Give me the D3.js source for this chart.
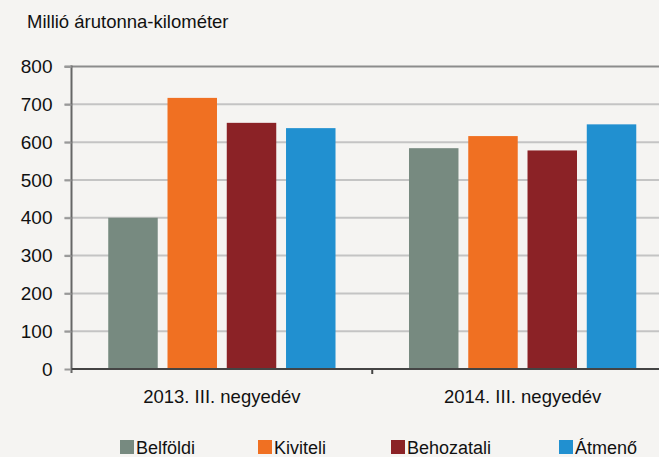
<!DOCTYPE html>
<html><head><meta charset="utf-8">
<script src="https://cdn.jsdelivr.net/npm/d3@7"></script>
<style>
html,body{margin:0;padding:0;background:#f5f4f2;}
svg{display:block;font-family:"Liberation Sans",Arial,sans-serif;}
</style></head>
<body>
<script>
const categories = ["2013. III. negyedév", "2014. III. negyedév"];
const seriesNames = ["Belföldi", "Kiviteli", "Behozatali", "Átmenő"];
const seriesColors = ["#778a80", "#f07022", "#8b2226", "#2190d0"];
const belfoldi = [400, 584];
const kiviteli = [717, 616];
const behozatali = [651, 578];
const atmeno = [637, 647];
const yTicks = [0, 100, 200, 300, 400, 500, 600, 700, 800];
const yTitle = "Millió árutonna-kilométer";

(function () {
const seriesValues = [belfoldi, kiviteli, behozatali, atmeno];
const W = 659, H = 457;
const svg = d3.select("body").append("svg").attr("width", W).attr("height", H);
svg.append("rect").attr("width", W).attr("height", H).attr("fill", "#f5f4f2");

const pL = 71.5, pR = 673, pT = 66.5, pB = 369;
const x0 = d3.scaleBand().domain(categories).range([pL, pR]).paddingInner(0).paddingOuter(0);
const x1 = d3.scaleBand().domain(seriesNames).range([0, x0.bandwidth()]).paddingInner(0.165).paddingOuter(0.62);
const y = d3.scaleLinear().domain([0, 800]).range([pB, pT]);

// gridlines
svg.append("g").selectAll("line").data(yTicks.filter(d => d > 0 && d < 800)).join("line")
  .attr("x1", pL - 7).attr("x2", W).attr("y1", d => y(d)).attr("y2", d => y(d))
  .attr("stroke", "#c4c4c4").attr("stroke-width", 2);
// top border
svg.append("line").attr("x1", pL - 7).attr("x2", W).attr("y1", y(800)).attr("y2", y(800))
  .attr("stroke", "#8c8c8c").attr("stroke-width", 2);

// bars
const g = svg.append("g");
categories.forEach((c, ci) => {
  seriesNames.forEach((s, si) => {
    const v = seriesValues[si][ci];
    g.append("rect")
      .attr("x", x0(c) + x1(s)).attr("width", x1.bandwidth())
      .attr("y", y(v)).attr("height", y(0) - y(v))
      .attr("fill", seriesColors[si]);
  });
});

// y axis
const yAxis = d3.axisLeft(y).tickValues(yTicks).tickSize(7).tickPadding(12).tickFormat(d3.format("d"));
const ya = svg.append("g").attr("transform", `translate(${pL},0)`).call(yAxis);
ya.select(".domain").attr("stroke", "#666").attr("stroke-width", 2).attr("d", `M0,${pT - 1}V${pB + 4}`);
ya.selectAll(".tick line").attr("stroke", "#999").attr("stroke-width", 2);
ya.selectAll(".tick text").attr("font-size", 19).attr("fill", "#111").attr("font-family", "Liberation Sans, Arial, sans-serif");

// x axis
const xa = svg.append("g").attr("transform", `translate(0,${pB})`);
xa.append("line").attr("x1", pL).attr("x2", W).attr("y1", 0).attr("y2", 0).attr("stroke", "#444").attr("stroke-width", 2);
xa.selectAll(".sep").data(categories).join("line").attr("class", "sep")
  .attr("x1", d => x0(d) + x0.bandwidth()).attr("x2", d => x0(d) + x0.bandwidth())
  .attr("y1", 0).attr("y2", 5).attr("stroke", "#444").attr("stroke-width", 2);
xa.selectAll("text").data(categories).join("text")
  .attr("x", d => x0(d) + x0.bandwidth() / 2).attr("y", 34)
  .attr("text-anchor", "middle").attr("font-size", 18.5).attr("fill", "#111").text(d => d);

// title
svg.append("text").attr("x", 27).attr("y", 28).attr("font-size", 18.5).attr("fill", "#111").text(yTitle);

// legend
const legX = [120, 258, 391, 559];
const lg = svg.append("g");
seriesNames.forEach((s, i) => {
  lg.append("rect").attr("x", legX[i]).attr("y", 440).attr("width", 14).attr("height", 14).attr("fill", seriesColors[i]);
  lg.append("text").attr("x", legX[i] + 16).attr("y", 454).attr("font-size", 18).attr("fill", "#111").text(s);
});
})();
</script>
</body></html>
